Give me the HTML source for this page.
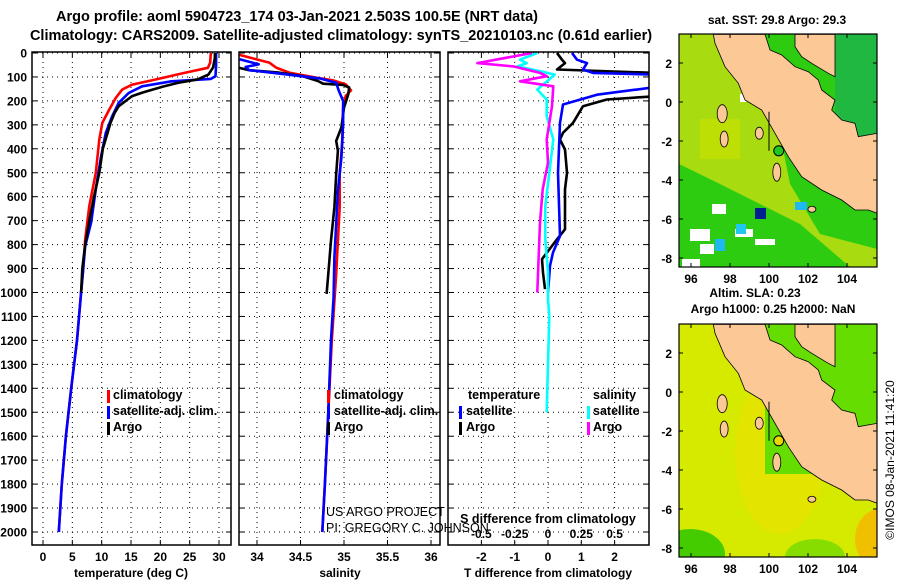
<!DOCTYPE html>
<html><head><meta charset="utf-8">
<style>
html,body{margin:0;padding:0;background:#fff;}
svg{display:block;font-family:"Liberation Sans",sans-serif;}
.b{font-weight:bold;}
</style></head>
<body>
<svg id="chart" width="900" height="580" viewBox="0 0 900 580" xmlns="http://www.w3.org/2000/svg">
<text x="297" y="21" text-anchor="middle" font-size="14.5" class="b">Argo profile: aoml 5904723_174 03-Jan-2021 2.503S 100.5E (NRT data)</text>
<text x="341" y="40" text-anchor="middle" font-size="14.5" class="b">Climatology: CARS2009. Satellite-adjusted climatology: synTS_20210103.nc (0.61d earlier)</text>
<g id="panels"></g>
<g id="maps"></g>
<text transform="translate(894,460) rotate(-90)" text-anchor="middle" font-size="12">©IMOS 08-Jan-2021 11:41:20</text>
</svg>
<script>
// ---- data (depth in dbar) ----
const depthTicks = [0,100,200,300,400,500,600,700,800,900,1000,1100,1200,1300,1400,1500,1600,1700,1800,1900,2000];
const tempTicks = [0,5,10,15,20,25,30];
const salTicks = [34,34.5,35,35.5,36];
const dTTicks = [-2,-1,0,1,2];
const dSTicks = [-0.5,-0.25,0,0.25,0.5];
const dSTickLabels = ['-0.5','-0.25','0','0.25','0.5'];

const argoTDepth = [0,20,60,90,110,125,140,150,165,180,200,222,250,292,350,400,500,600,700,800,900,1000];
const argoT = [29.3,29.3,29.0,28.2,26.4,23,20.5,19.1,17,15.2,14.1,12.9,12.2,11.5,10.8,10.2,9.6,8.7,7.9,7.2,6.7,6.5];
const climTDepth = [0,40,62,83,111,132,153,188,236,292,361,500,639,778,917,1000,1200,1400,1600,1800,2000];
const climT = [28.6,28.5,28.1,24.1,19.1,15.2,13.5,12.4,11.3,10.1,9.6,9.0,7.9,7.2,6.8,6.5,5.8,4.8,3.9,3.2,2.7];
const satTDepth = [0,50,97,108,118,139,167,208,264,333,431,569,708,806,917,1000,1200,1400,1600,1800,2000];
const satT = [29.5,29.5,29.4,28.6,21.9,16.9,14.6,12.9,11.8,10.7,9.9,9.0,8.2,7.2,6.8,6.5,5.8,4.8,3.9,3.2,2.7];

const argoSDepth = [61,72,82,96,117,128,133,144,172,228,311,367,408,506,644,783,922,1006];
const argoS = [33.78,33.91,34.25,34.52,34.70,34.76,34.99,35.06,35.05,35.0,34.97,34.91,34.93,34.91,34.89,34.85,34.82,34.80];
const climSDepth = [8,26,40,61,82,103,114,131,156,179,228,367,506,644,783,922,1200,1500,1800,2000];
const climS = [33.8,33.99,34.14,34.22,34.37,34.68,34.87,35.02,35.08,35.02,34.99,34.98,34.95,34.95,34.93,34.91,34.86,34.82,34.78,34.75];
const satSDepth = [26,47,58,72,89,106,124,158,200,297,436,575,714,853,1019,1200,1500,1800,2000];
const satS = [33.8,34.02,33.87,33.91,34.33,34.72,34.91,34.94,34.99,34.99,34.97,34.93,34.91,34.89,34.88,34.85,34.82,34.78,34.75];

const argoDTDepth = [0,28,42,69,83,181,194,222,292,333,361,403,500,569,639,736,778,833,861,917,986];
const argoDT = [0.27,0.42,0.51,0.27,3.2,3.2,1.77,1.05,0.75,0.45,0.36,0.51,0.57,0.51,0.51,0.51,0.27,-0.03,-0.18,-0.15,-0.09];
const satDTDepth = [0,28,42,69,83,90,143,174,215,292,500,764,833,889,1000];
const satDT = [0.72,0.87,1.17,1.05,1.35,3.2,3.2,1.47,0.45,0.36,0.30,0.36,0.15,0.06,0.0];
const argoDSDepth = [0,42,56,83,97,118,139,222,361,458,569,708,847,1000];
const argoDS = [-0.12,-0.53,-0.26,-0.06,-0.01,-0.21,0.04,0.03,-0.01,0,-0.04,-0.06,-0.07,-0.08];
const satDSDepth = [0,28,42,56,76,90,153,194,264,361,500,639,778,917,1028,1100,1300,1500];
const satDS = [-0.08,-0.21,-0.16,-0.23,-0.06,0.05,-0.08,-0.01,-0.01,0.04,0.01,-0.02,-0.02,0,0,0.01,0,-0.01];

const mapLonTicks = [96,98,100,102,104];
const mapLatTicks = [2,0,-2,-4,-6,-8];
const argoLon = [100.5];
const argoLat = [-2.503];

const NS = 'http://www.w3.org/2000/svg';
function mk(tag, attrs, parent){const e=document.createElementNS(NS,tag);for(const k in attrs)e.setAttribute(k,attrs[k]);parent.appendChild(e);return e;}
const panels = document.getElementById('panels');

const Y0=53, Y1=532, TOP=52, BOT=545;
function yD(d){return Y0 + d*(Y1-Y0)/2000;}
function xT(t){return 43 + t*(219-43)/30;}
function xS(s){return 257 + (s-34)*87;}
function xDT(v){return 548 + v*33.3;}
function xDS(v){return 548 + v*133.2;}

function frame(x0,x1,name){
  const r=mk('rect',{x:x0,y:TOP,width:x1-x0,height:BOT-TOP,fill:'none',stroke:'#000','stroke-width':1.5},panels);
  
  
}
function grid(x0,x1,xs){
  depthTicks.forEach(d=>{const l=mk('line',{x1:x0,x2:x1,y1:yD(d),y2:yD(d),stroke:'#000','stroke-width':1,'stroke-dasharray':'1,4'},panels);
    
    mk('line',{x1:x0,x2:x0+5,y1:yD(d),y2:yD(d),stroke:'#000'},panels);mk('line',{x1:x1-5,x2:x1,y1:yD(d),y2:yD(d),stroke:'#000'},panels);});
  xs.forEach(x=>{const l=mk('line',{x1:x,x2:x,y1:TOP,y2:BOT,stroke:'#000','stroke-width':1,'stroke-dasharray':'1,4'},panels);
    
    mk('line',{x1:x,x2:x,y1:BOT-5,y2:BOT,stroke:'#000'},panels);mk('line',{x1:x,x2:x,y1:TOP,y2:TOP+5,stroke:'#000'},panels);});
}
function xticks(vals,fx,labels,y,name){
  vals.forEach((v,i)=>{const t=mk('text',{x:fx(v),y:y,'text-anchor':'middle','font-size':12,'font-weight':'bold'},panels);
    t.textContent=labels?labels[i]:String(v);
    });
}
function series(depths,vals,fx,color,name,clip){
  const pts=depths.map((d,i)=>fx(vals[i]).toFixed(1)+','+yD(d).toFixed(1)).join(' ');
  const p=mk('polyline',{points:pts,fill:'none',stroke:color,'stroke-width':2.6,'stroke-linejoin':'round','clip-path':'url(#'+clip+')'},panels);
  
  
}
function clip(id,x0,x1){const cp=mk('clipPath',{id:id},panels);mk('rect',{x:x0,y:TOP,width:x1-x0,height:BOT-TOP},cp);}
function label(x,y,txt,name,anchor,size,bold){
  const t=mk('text',{x:x,y:y,'text-anchor':anchor||'start','font-size':size||12,'font-weight':bold===false?'normal':'bold'},panels);
  t.textContent=txt;return t;
}
function mark(x,y,color,name){const r=mk('rect',{x:x,y:y-7,width:3,height:13,fill:color},panels);}

depthTicks.forEach(d=>{const t=mk('text',{x:27,y:yD(d)+4.5,'text-anchor':'end','font-size':12,'font-weight':'bold'},panels);
  t.textContent=String(d);});

// Panel 1
clip('c1',32,231);
grid(32,231,tempTicks.map(xT));
series(climTDepth,climT,xT,'#f00','climatology-temp-line','c1');
series(satTDepth,satT,xT,'#00f','satellite-temp-line','c1');
series(argoTDepth,argoT,xT,'#000','argo-temp-line','c1');
frame(32,231,'temperature-panel');
xticks(tempTicks,xT,null,561,'temp-tick-label');
label(131,577,'temperature (deg C)','temperature-axis-title','middle');
mark(107,397,'#f00','legend-mark-clim');label(113,399,'climatology','legend-climatology','start',12.5);
mark(107,413,'#00f','legend-mark-sat');label(113,415,'satellite-adj. clim.','legend-satellite','start',12.5);
mark(107,429,'#000','legend-mark-argo');label(113,431,'Argo','legend-argo','start',12.5);

// Panel 2
clip('c2',239,440);
grid(239,440,salTicks.map(xS));
series(climSDepth,climS,xS,'#f00','climatology-salinity-line','c2');
series(argoSDepth,argoS,xS,'#000','argo-salinity-line','c2');
series(satSDepth,satS,xS,'#00f','satellite-salinity-line','c2');
frame(239,440,'salinity-panel');
xticks(salTicks,xS,null,561,'salinity-tick-label');
label(340,577,'salinity','salinity-axis-title','middle');
mark(327,397,'#f00','legend-mark-clim-2');label(334,399,'climatology','legend-climatology-2','start',12.5);
mark(327,413,'#00f','legend-mark-sat-2');label(334,415,'satellite-adj. clim.','legend-satellite-2','start',12.5);
mark(327,429,'#000','legend-mark-argo-2');label(334,431,'Argo','legend-argo-2','start',12.5);

// Panel 3
clip('c3',448,649);
grid(448,649,dTTicks.map(xDT));
series(argoDTDepth,argoDT,xDT,'#000','argo-temp-diff-line','c3');
series(satDTDepth,satDT,xDT,'#00f','satellite-temp-diff-line','c3');
series(satDSDepth,satDS,xDS,'#0ff','satellite-salinity-diff-line','c3');
series(argoDSDepth,argoDS,xDS,'#f0f','argo-salinity-diff-line','c3');
frame(448,649,'difference-panel');
xticks(dTTicks,xDT,null,561,'temp-diff-tick-label');
label(548,577,'T difference from climatology','temp-diff-axis-title','middle');
const sdl=mk('rect',{x:458,y:511,width:180,height:16,fill:'#fff'},panels);

label(548,523,'S difference from climatology','salinity-diff-axis-title','middle',12.5);
xticks(dSTicks,xDS,dSTickLabels,538,'salinity-diff-tick-label');
label(468,399,'temperature','legend-temperature-heading','start',12.5);
label(593,399,'salinity','legend-salinity-heading','start',12.5);
mark(459,413,'#00f','legend-mark-sat-t');label(466,415,'satellite','legend-sat-t','start',12.5);
mark(459,429,'#000','legend-mark-argo-t');label(466,431,'Argo','legend-argo-t','start',12.5);
mark(587,413,'#0ff','legend-mark-sat-s');label(593,415,'satellite','legend-sat-s','start',12.5);
mark(587,429,'#f0f','legend-mark-argo-s');label(593,431,'Argo','legend-argo-s','start',12.5);

label(326,516,'US ARGO PROJECT','us-argo-project-credit','start',12.5,false);
label(326,532,'PI: GREGORY C. JOHNSON','pi-credit','start',12.5,false);

// ---- Maps ----
const maps=document.getElementById('maps');
const MX0=679,MX1=877;
function mxLon(l){return 691 + (l-96)*19.5;}
function drawMap(top,kind){
  const y0=top, y1=top+233;
  function myLat(l){return top+68 + (0-l)*19.5;}
  const g=mk('g',{},maps);
  
  
  const cid='mc'+kind;
  const cp=mk('clipPath',{id:cid},g);mk('rect',{x:MX0,y:y0,width:MX1-MX0,height:y1-y0},cp);
  const inner=mk('g',{'clip-path':'url(#'+cid+')'},g);
  if(kind==='sst'){
    mk('rect',{x:MX0,y:y0,width:198,height:233,fill:'#2ecc10'},inner);
    mk('polygon',{points:`${MX0},${y0} 760,${y0} 790,${y0+150} 820,${y0+200} 877,${y0+215} 877,${y0+233} 850,${y0+233} 800,${y0+190} 760,${y0+170} 720,${y0+150} ${MX0},${y0+130}`,fill:'#a8dc10'},inner);
    mk('rect',{x:700,y:y0+85,width:40,height:40,fill:'#c8e000',opacity:0.7},inner);
    [[712,y0+170,14,10],[690,y0+195,20,12],[735,y0+195,18,8],[700,y0+210,14,10],[682,y0+225,18,10],[755,y0+205,20,6],[740,y0+60,6,8]].forEach(r=>mk('rect',{x:r[0],y:r[1],width:r[2],height:r[3],fill:'#fff'},inner));
    mk('rect',{x:755,y:y0+174,width:11,height:11,fill:'#002090'},inner);
    mk('rect',{x:795,y:y0+168,width:12,height:8,fill:'#20b8f0'},inner);
    mk('rect',{x:736,y:y0+190,width:10,height:10,fill:'#20c8f0'},inner);
    mk('rect',{x:715,y:y0+205,width:10,height:12,fill:'#20b8f0'},inner);
    mk('rect',{x:835,y:y0,width:42,height:140,fill:'#20b840'},inner);
  } else {
    mk('rect',{x:MX0,y:y0,width:198,height:233,fill:'#d6ea00'},inner);
    mk('ellipse',{cx:780,cy:y0+130,rx:45,ry:80,fill:'#e6e200',opacity:0.8},inner);
    mk('ellipse',{cx:690,cy:y0+230,rx:35,ry:25,fill:'#44cc00'},inner);
    mk('ellipse',{cx:815,cy:y0+233,rx:30,ry:18,fill:'#88dd00'},inner);
    mk('ellipse',{cx:880,cy:y0+215,rx:25,ry:30,fill:'#f0c000'},inner);
    mk('rect',{x:765,y:y0,width:112,height:150,fill:'#66dd00'},inner);
  }
  const sum=[[175,103],[330,103],[345,150],[380,165],[420,200],[460,215],[490,240],[500,270],[540,300],[530,330],[560,360],[600,370],[610,410],[667,400],[667,640],[640,630],[600,630],[560,600],[500,570],[440,530],[400,470],[360,400],[320,330],[270,300],[250,250],[210,200],[180,130]];
  const mal=[[420,103],[540,103],[540,230],[520,220],[470,190],[440,170],[420,140]];
  [sum,mal].forEach((poly,i)=>{const pts=poly.map(p=>(655+p[0]/3).toFixed(1)+','+(top-34+p[1]/3).toFixed(1)).join(' ');
    const pl=mk('polygon',{points:pts,fill:'#fbc896',stroke:'#000','stroke-width':0.8},inner);
    });
  [[97.6,-0.6,5,9],[97.7,-1.9,4,8],[99.5,-1.6,4,6],[100.4,-3.6,4,9],[102.2,-5.5,4,3]].forEach(s=>mk('ellipse',{cx:mxLon(s[0]),cy:myLat(s[1]),rx:s[2],ry:s[3],fill:'#fbc896',stroke:'#000','stroke-width':0.8},inner));
  mk('line',{x1:mxLon(100),y1:myLat(-0.5),x2:mxLon(100),y2:myLat(-2.5),stroke:'#000'},inner);
  argoLon.forEach((lo,i)=>{const c=mk('circle',{cx:mxLon(lo),cy:myLat(argoLat[i]),r:5,fill:kind==='sst'?'#1ec81e':'#e8d800',stroke:'#000','stroke-width':1},inner);
    });
  const fr=mk('rect',{x:MX0,y:y0,width:MX1-MX0,height:y1-y0,fill:'none',stroke:'#000','stroke-width':1.2},g);
  
  mapLonTicks.forEach(l=>{mk('line',{x1:mxLon(l),x2:mxLon(l),y1:y1,y2:y1-4,stroke:'#000'},g);mk('line',{x1:mxLon(l),x2:mxLon(l),y1:y0,y2:y0+4,stroke:'#000'},g);
    const t=mk('text',{x:mxLon(l),y:y1+16,'text-anchor':'middle','font-size':12,'font-weight':'bold'},g);t.textContent=String(l);
    });
  mapLatTicks.forEach(l=>{mk('line',{x1:MX0,x2:MX0+4,y1:myLat(l),y2:myLat(l),stroke:'#000'},g);mk('line',{x1:MX1-4,x2:MX1,y1:myLat(l),y2:myLat(l),stroke:'#000'},g);
    const t=mk('text',{x:672,y:myLat(l)+5,'text-anchor':'end','font-size':12,'font-weight':'bold'},g);t.textContent=String(l);
    });
}
drawMap(34,'sst');
drawMap(324,'sla');
function mlabel(x,y,txt,name){const t=mk('text',{x:x,y:y,'text-anchor':'middle','font-size':12,'font-weight':'bold'},maps);t.textContent=txt;}
mlabel(777,24,'sat. SST: 29.8 Argo: 29.3','sst-map-title');
mlabel(755,297,'Altim. SLA: 0.23','sla-map-title');
mlabel(773,313,'Argo h1000: 0.25 h2000: NaN','steric-height-title');
</script>
</body></html>
